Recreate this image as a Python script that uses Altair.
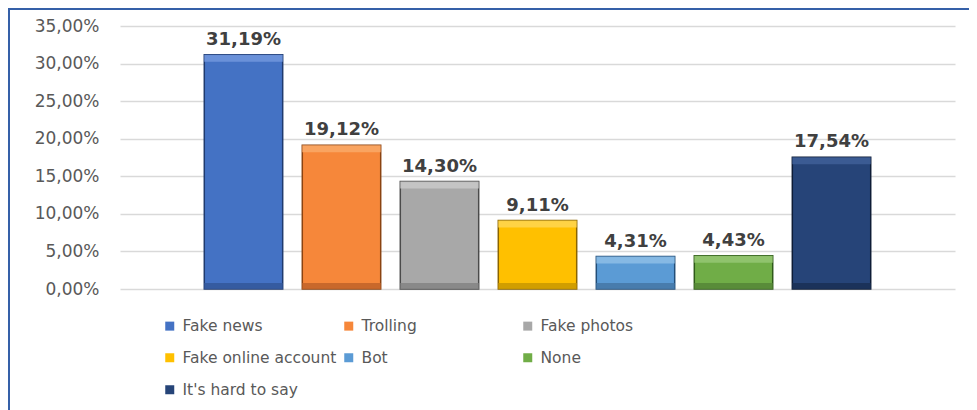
import altair as alt
import pandas as pd

categories = ["Fake news", "Trolling", "Fake photos", "Fake online account", "Bot", "None", "It's hard to say"]
values = [31.19, 19.12, 14.30, 9.11, 4.31, 4.43, 17.54]
colors = ["#4472C4", "#F6873A", "#A8A8A8", "#FFC000", "#5B9BD5", "#70AD47", "#264478"]
edges = ["#1F3A6E", "#8A4311", "#4A4A4A", "#8A6400", "#234E78", "#2F5A1A", "#0E1C36"]
lights = ["#6F95DB", "#F9A766", "#C6C6C6", "#FFD54D", "#8BBCE6", "#94C571", "#3E5E96"]
darks = ["#34599C", "#C4652A", "#858585", "#CC9A00", "#4679A8", "#578837", "#1B3157"]
y_ticks = [0, 5, 10, 15, 20, 25, 30, 35]

df = pd.DataFrame({"category": categories, "value": values,
                   "light": lights, "dark": darks, "zero": [0] * len(values)})

base = alt.Chart(df).transform_calculate(
    label="replace(format(datum.value, '.2f'), '.', ',') + '%'"
)

x = alt.X("category:N", sort=categories, axis=None,
          scale=alt.Scale(paddingInner=0.2, paddingOuter=0.86))
y = alt.Y("value:Q",
          scale=alt.Scale(domain=[0, 35], nice=False, zero=True),
          axis=alt.Axis(values=y_ticks, tickCount=8, title=None, domain=False, ticks=False,
                        labelOverlap=False,
                        labelExpr="replace(format(datum.value, '.2f'), '.', ',') + '%'",
                        labelFont="DejaVu Sans", labelFontSize=17, labelColor="#595959",
                        labelPadding=21, grid=True, gridColor="#D9D9D9", gridWidth=1.5))

bars = base.mark_bar(strokeWidth=1.5).encode(
    x=x,
    y=y,
    color=alt.Color("category:N", sort=categories,
                    scale=alt.Scale(domain=categories, range=colors),
                    legend=alt.Legend(title=None, orient="none", legendX=42, legendY=292,
                                      direction="horizontal",
                                      columns=3, gridAlign="all", columnPadding=4,
                                      rowPadding=15, symbolType="square", symbolSize=81,
                                      symbolStrokeWidth=0, labelOffset=5,
                                      labelFont="DejaVu Sans", labelFontSize=15.5,
                                      labelColor="#595959", labelLimit=300)),
    stroke=alt.Stroke("category:N", sort=categories,
                      scale=alt.Scale(domain=categories, range=edges), legend=None),
)

top_bevel = base.mark_bar(y2Offset=7, opacity=0.9).encode(
    x=x,
    y=y,
    y2="value:Q",
    fill=alt.Fill("light:N", scale=None),
)

bottom_bevel = base.mark_bar(y2Offset=-6, opacity=0.9).encode(
    x=x,
    y=alt.Y("zero:Q"),
    y2="zero:Q",
    fill=alt.Fill("dark:N", scale=None),
)

texts = base.mark_text(font="DejaVu Sans", fontSize=18, fontWeight="bold",
                       color="#404040", baseline="alphabetic", dy=-10).encode(
    x=x,
    y=y,
    text="label:N",
)

frame_df = pd.DataFrame({"k": [0]})
left_line = alt.Chart(frame_df).mark_rule(color="#3560A8", strokeWidth=2).encode(
    x=alt.value(-111), y=alt.value(-17), y2=alt.value(400))
top_line = alt.Chart(frame_df).mark_rule(color="#3560A8", strokeWidth=2).encode(
    x=alt.value(-112), x2=alt.value(900), y=alt.value(-17))

chart = alt.layer(bars, top_bevel, bottom_bevel, texts, left_line, top_line).properties(
    width=835, height=263,
    autosize=alt.AutoSizeParams(type="none"),
    padding={"left": 112, "top": 18, "right": 14, "bottom": 121},
).configure(font="DejaVu Sans").configure_view(stroke=None)

chart.save("out.html", embed_options={"renderer": "svg", "actions": False})
